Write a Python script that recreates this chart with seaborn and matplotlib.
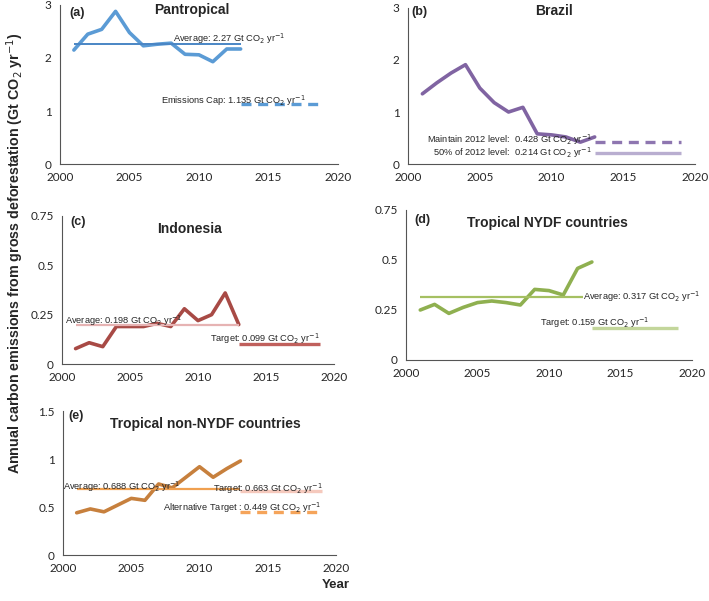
import numpy as np
import pandas as pd
import matplotlib.pyplot as plt
import seaborn as sns

# Données
years = list(range(2001, 2014))
pantropical = [2.15, 2.45, 2.54, 2.88, 2.48, 2.23, 2.26, 2.28, 2.07, 2.06, 1.93, 2.17, 2.17]
brazil = [1.35, 1.56, 1.75, 1.91, 1.46, 1.18, 1.00, 1.09, 0.58, 0.56, 0.52, 0.42, 0.52]
indonesia = [0.078, 0.108, 0.088, 0.19, 0.19, 0.19, 0.206, 0.19, 0.28, 0.22, 0.25, 0.36, 0.20]
nydf = [0.25, 0.278, 0.233, 0.263, 0.287, 0.295, 0.287, 0.275, 0.353, 0.347, 0.325, 0.458, 0.49]
non_nydf = [0.44, 0.48, 0.45, 0.52, 0.59, 0.57, 0.74, 0.70, 0.81, 0.92, 0.81, 0.90, 0.98]

hist_span = [2001, 2013]
target_span = [2013, 2019]

pan_avg, pan_cap = 2.27, 1.135
bra_keep, bra_half = 0.428, 0.214
ind_avg, ind_target = 0.198, 0.099
nydf_avg, nydf_target = 0.317, 0.159
non_avg, non_target, non_alt = 0.688, 0.663, 0.449

sns.set_style("white")
plt.rcParams['font.family'] = ['Liberation Sans', 'DejaVu Sans']

fig = plt.figure(figsize=(7.09, 6.01), dpi=100)
axes = {
    "a": fig.add_axes([0.0846, 0.7271, 0.392, 0.2646]),
    "b": fig.add_axes([0.5755, 0.7271, 0.405, 0.2596]),
    "c": fig.add_axes([0.0874, 0.3943, 0.3837, 0.2463]),
    "d": fig.add_axes([0.5726, 0.4010, 0.4034, 0.2496]),
    "e": fig.add_axes([0.0889, 0.0765, 0.385, 0.2396]),
}

unit = r" Gt CO$_2$ yr$^{-1}$"
lab_fs = 6.7


def base(ax, ymax, yticks, yticklabels, letter, lpos, title, tpos):
    ax.set_xlim(2000, 2020)
    ax.set_ylim(0, ymax)
    ax.set_xticks([2000, 2005, 2010, 2015, 2020])
    ax.set_yticks(yticks)
    ax.set_yticklabels(yticklabels)
    for s in ["top", "right"]:
        ax.spines[s].set_visible(False)
    for s in ["left", "bottom"]:
        ax.spines[s].set_color("#555555")
        ax.spines[s].set_linewidth(0.8)
    ax.tick_params(direction="in", length=3, width=0.8, color="#555555",
                   labelsize=8.5, pad=6)
    for t in ax.get_xticklabels() + ax.get_yticklabels():
        t.set_family("Lato")
    ax.set_xlabel("")
    ax.set_ylabel("")
    ax.text(lpos[0], lpos[1], f"({letter})", transform=ax.transAxes, fontsize=9,
            fontweight="bold", va="top")
    ax.text(tpos[0], tpos[1], title, transform=ax.transAxes, fontsize=10,
            fontweight="bold", va="top", ha="center")


def series(ax, values, color):
    df = pd.DataFrame({"year": years, "value": values})
    sns.lineplot(data=df, x="year", y="value", ax=ax, color=color, lw=2.6)


# (a)
ax = axes["a"]
series(ax, pantropical, "#5b9bd5")
ax.hlines(pan_avg, *hist_span, color="#4a86c5", lw=1.4)
ax.hlines(pan_cap, *target_span, color="#5b9bd5", lw=2.4, linestyles=(0, (3, 2)))
ax.text(2008.1, 2.36, "Average: 2.27" + unit, fontsize=lab_fs, va="center")
ax.text(2007.3, 1.2, "Emissions Cap: 1.135" + unit, fontsize=lab_fs, va="center")
base(ax, 3, [0, 1, 2, 3], ["0", "1", "2", "3"], "a", (0.035, 0.99),
     "Pantropical", (0.475, 1.015))

# (b)
ax = axes["b"]
series(ax, brazil, "#8064a2")
ax.hlines(bra_keep, *target_span, color="#8e76b0", lw=2.4, linestyles=(0, (3, 2)))
ax.hlines(bra_half, *target_span, color="#b9aed0", lw=2.4)
ax.text(2012.8, 0.47, "Maintain 2012 level:  0.428" + unit, fontsize=lab_fs,
        va="center", ha="right")
ax.text(2012.8, 0.215, "50% of 2012 level:  0.214" + unit, fontsize=lab_fs,
        va="center", ha="right")
base(ax, 3, [0, 1, 2, 3], ["0", "1", "2", "3"], "b", (0.01, 1.01),
     "Brazil", (0.51, 1.025))

# (c)
ax = axes["c"]
series(ax, indonesia, "#a84a45")
ax.hlines(ind_avg, *hist_span, color="#e6b3b3", lw=1.6)
ax.hlines(ind_target, *target_span, color="#c0605c", lw=2.4)
ax.text(2000.2, 0.222, "Average: 0.198" + unit, fontsize=lab_fs, va="center")
ax.text(2010.9, 0.128, "Target: 0.099" + unit, fontsize=lab_fs, va="center")
base(ax, 0.75, [0, 0.25, 0.5, 0.75], ["0", "0.25", "0.5", "0.75"], "c",
     (0.03, 1.0), "Indonesia", (0.47, 0.96))

# (d)
ax = axes["d"]
series(ax, nydf, "#8fb050")
ax.hlines(nydf_avg, 2001, 2012.4, color="#a5c062", lw=1.6)
ax.hlines(nydf_target, *target_span, color="#c3d69b", lw=2.4)
ax.text(2012.4, 0.317, "Average: 0.317" + unit, fontsize=lab_fs, va="center")
ax.text(2009.4, 0.185, "Target: 0.159" + unit, fontsize=lab_fs, va="center")
base(ax, 0.75, [0, 0.25, 0.5, 0.75], ["0", "0.25", "0.5", "0.75"], "d",
     (0.03, 0.97), "Tropical NYDF countries", (0.495, 0.96))

# (e)
ax = axes["e"]
series(ax, non_nydf, "#c7803d")
ax.hlines(non_avg, *hist_span, color="#f0a050", lw=1.6)
ax.hlines(non_target, *target_span, color="#f5c9bd", lw=2.4)
ax.hlines(non_alt, *target_span, color="#f5a45a", lw=2.4, linestyles=(0, (3, 2)))
ax.text(2000.0, 0.715, "Average: 0.688" + unit, fontsize=lab_fs, va="center")
ax.text(2011.0, 0.69, "Target: 0.663" + unit, fontsize=lab_fs, va="center")
ax.text(2007.3, 0.49, "Alternative Target : 0.449" + unit, fontsize=lab_fs,
        va="center")
base(ax, 1.5, [0, 0.5, 1, 1.5], ["0", "0.5", "1", "1.5"], "e",
     (0.02, 1.01), "Tropical non-NYDF countries", (0.52, 0.96))

fig.text(0.022, 0.579, r"Annual carbon emissions from gross deforestation (Gt CO$_2$ yr$^{-1}$)",
         rotation=90, va="center", ha="center", fontsize=10.3, fontweight="bold")
fig.text(0.473, 0.027, "Year", ha="center", va="center", fontsize=9.5,
         fontweight="bold")

fig.savefig("out.png", dpi=100)
